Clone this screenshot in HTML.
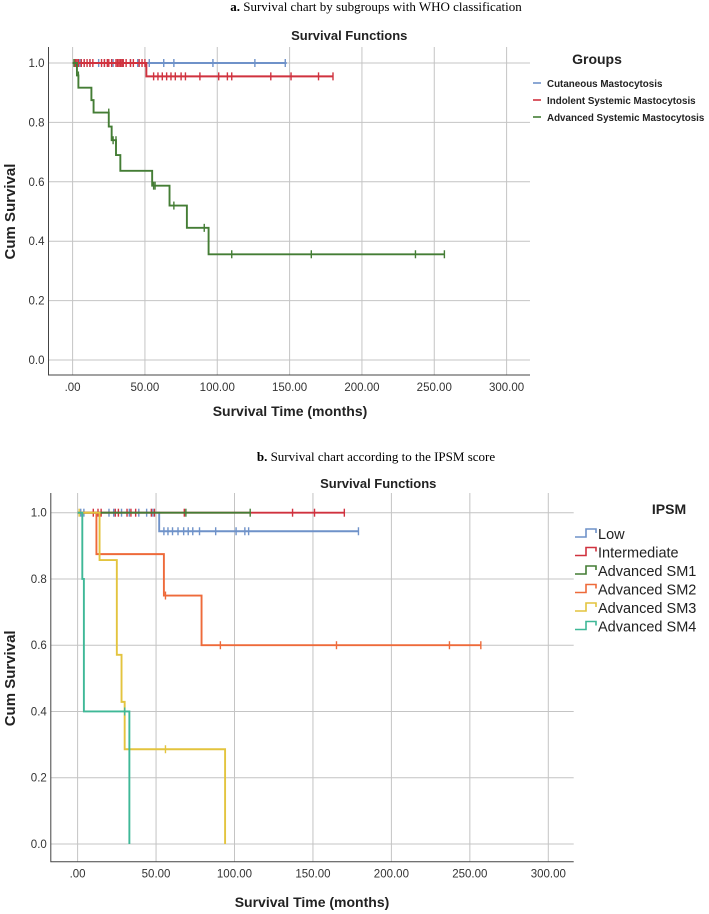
<!DOCTYPE html>
<html><head><meta charset="utf-8"><style>
html,body{margin:0;padding:0;background:#fff;}
svg{display:block;}
text{font-family:"Liberation Sans",sans-serif;}
.serif{font-family:"Liberation Serif",serif;}
</style></head><body>
<svg id="svg" width="709" height="914" viewBox="0 0 709 914" xmlns="http://www.w3.org/2000/svg">
<text class="serif" x="376" y="11" text-anchor="middle" font-size="13"><tspan font-weight="bold">a.</tspan> Survival chart by subgroups with WHO classification</text>
<text class="serif" x="376" y="461" text-anchor="middle" font-size="13"><tspan font-weight="bold">b.</tspan> Survival chart according to the IPSM score</text>
<g id="chartA"></g>
<g id="chartB"></g>
</svg>
<script>
// ---------- Chart A data ----------
const xTicks = [0, 50, 100, 150, 200, 250, 300];
const xTickLabels = [".00", "50.00", "100.00", "150.00", "200.00", "250.00", "300.00"];
const yTicks = [0, 0.2, 0.4, 0.6, 0.8, 1.0];
const yTickLabels = ["0.0", "0.2", "0.4", "0.6", "0.8", "1.0"];

const aNames = ["Cutaneous Mastocytosis", "Indolent Systemic Mastocytosis", "Advanced Systemic Mastocytosis"];
const aCutTimes = [0];
const aCutSurv = [1.0];
const aCutEnd = 148;
const aCutCens = [2, 5, 8, 12, 18, 22, 28, 35, 40, 45, 53, 63, 70, 97, 126, 147];
const aIndTimes = [0, 51];
const aIndSurv = [1.0, 0.955];
const aIndEnd = 180;
const aIndCens = [1, 2, 3, 4, 6, 8, 10, 12, 14, 20, 22, 24, 25, 27, 30, 31, 32, 33, 34, 35, 37, 40, 42, 46, 48, 50, 56, 59, 62, 65, 68, 71, 75, 78, 88, 101, 107, 110, 137, 151, 170, 180];
const aAdvTimes = [0, 3, 4, 13, 14.5, 25, 27, 30, 33, 55, 67, 79, 94];
const aAdvSurv = [1.0, 0.958, 0.917, 0.875, 0.833, 0.786, 0.74, 0.69, 0.637, 0.587, 0.52, 0.445, 0.356];
const aAdvEnd = 257;
const aAdvCens = [1, 4, 25, 28, 30, 56, 57, 70, 91, 110, 165, 237, 257];

// ---------- Chart B data ----------
const bNames = ["Low", "Intermediate", "Advanced SM1", "Advanced SM2", "Advanced SM3", "Advanced SM4"];
const bLowTimes = [0, 52];
const bLowSurv = [1.0, 0.944];
const bLowEnd = 179;
const bLowCens = [2, 4, 20, 23, 28, 33, 39, 44, 48, 55, 57.6, 60.5, 64, 67.6, 70.5, 73.4, 77.7, 88, 101, 106.6, 109, 179];
const bIntTimes = [0];
const bIntSurv = [1.0];
const bIntEnd = 170;
const bIntCens = [10, 13, 15, 24, 26, 31.5, 34, 37, 47, 49, 68, 137, 151, 170];
const bSM1Times = [0];
const bSM1Surv = [1.0];
const bSM1End = 110;
const bSM1Cens = [69, 110];
const bSM2Times = [0, 12, 55, 79];
const bSM2Surv = [1.0, 0.875, 0.75, 0.6];
const bSM2End = 257;
const bSM2Cens = [56, 91, 165, 237, 257];
const bSM3Times = [0, 14, 25, 28, 30, 94];
const bSM3Surv = [1.0, 0.857, 0.571, 0.429, 0.286, 0];
const bSM3End = 94;
const bSM3Cens = [1, 56];
const bSM4Times = [0, 3, 4, 33];
const bSM4Surv = [1.0, 0.8, 0.4, 0];
const bSM4End = 33;
const bSM4Cens = [30];

const NS = "http://www.w3.org/2000/svg";
function mk(parent, tag, attrs, txt) {
  const e = document.createElementNS(NS, tag);
  for (const k in attrs) e.setAttribute(k, attrs[k]);
  if (txt !== undefined) e.textContent = txt;
  parent.appendChild(e);
  return e;
}

function drawChart(g, cfg) {
  const xS = v => cfg.x0 + (v / 300) * (cfg.x300 - cfg.x0);
  const yS = v => cfg.y0 + v * (cfg.y1 - cfg.y0);
  xTicks.forEach((t, i) => {
    const l = mk(g, "line", {x1: xS(t), x2: xS(t), y1: cfg.top, y2: cfg.bottom, stroke: "#c4c4c4", "stroke-width": 1});
    
    
    const tx = mk(g, "text", {x: xS(t), y: cfg.bottom + 16, "text-anchor": "middle", "font-size": 11.5, fill: "#333"}, xTickLabels[i]);
    
    
  });
  yTicks.forEach((t, i) => {
    const l = mk(g, "line", {x1: cfg.left, x2: cfg.right, y1: yS(t), y2: yS(t), stroke: "#c4c4c4", "stroke-width": 1});
    
    
    const tx = mk(g, "text", {x: cfg.left - 4, y: yS(t) + 4, "text-anchor": "end", "font-size": 11.5, fill: "#333"}, yTickLabels[i]);
    
    
  });
  const ax = mk(g, "path", {d: `M${cfg.left},${cfg.top} V${cfg.bottom} H${cfg.right}`, fill: "none", stroke: "#444", "stroke-width": 1});
  
  
  const t1 = mk(g, "text", {x: (cfg.left + cfg.right) / 2 + cfg.titleDx, y: cfg.titleY, "text-anchor": "middle", "font-size": 13, "font-weight": "bold", fill: "#222"}, "Survival Functions");
  
  
  const xt = mk(g, "text", {x: cfg.xTitleX, y: cfg.xTitleY, "text-anchor": "middle", "font-size": 14, "font-weight": "bold", fill: "#222"}, "Survival Time (months)");
  
  
  const yc = (yS(0) + yS(1)) / 2;
  const yt = mk(g, "text", {x: 15, y: yc, "text-anchor": "middle", "font-size": 15, "font-weight": "bold", fill: "#222", transform: `rotate(-90 15 ${yc})`}, "Cum Survival");
  
  

  cfg.series.forEach(s => {
    let d = `M${xS(s.times[0])},${yS(s.surv[0])}`;
    for (let i = 1; i < s.times.length; i++) {
      d += ` H${xS(s.times[i])} V${yS(s.surv[i])}`;
    }
    d += ` H${xS(s.end)}`;
    const p = mk(g, "path", {d: d, fill: "none", stroke: s.color, "stroke-width": 1.9});
    
    
    s.cens.forEach(c => {
      let v = s.surv[0];
      for (let i = 0; i < s.times.length; i++) if (s.times[i] < c) v = s.surv[i];
      const m = mk(g, "line", {x1: xS(c), x2: xS(c), y1: yS(v) - 4, y2: yS(v) + 4, stroke: s.color, "stroke-width": 1.4});
      
      
    });
  });
}

const gA = document.getElementById("chartA");
drawChart(gA, {x0: 72.6, x300: 506.6, y0: 360, y1: 63, left: 48.5, right: 530, top: 47, bottom: 375,
  titleY: 40, titleDx: 60, xTitleX: 290, xTitleY: 416,
  series: [
    {key: "cutaneous", color: "#6f92c9", times: aCutTimes, surv: aCutSurv, end: aCutEnd, cens: aCutCens},
    {key: "indolent", color: "#d0323f", times: aIndTimes, surv: aIndSurv, end: aIndEnd, cens: aIndCens},
    {key: "advanced", color: "#447d35", times: aAdvTimes, surv: aAdvSurv, end: aAdvEnd, cens: aAdvCens}
  ]});
const aColors = ["#6f92c9", "#d0323f", "#447d35"];
const lgA = mk(gA, "text", {x: 597, y: 64, "text-anchor": "middle", "font-size": 14, "font-weight": "bold", fill: "#222"}, "Groups");


aNames.forEach((n, i) => {
  const y = 83 + i * 17;
  const l = mk(gA, "line", {x1: 533, x2: 541, y1: y, y2: y, stroke: aColors[i], "stroke-width": 1.6});
  
  
  const t = mk(gA, "text", {x: 547, y: y + 4, "font-size": 9.8, fill: "#222", "font-weight": "bold"}, n);
  
  
});

const gB = document.getElementById("chartB");
const bColors = ["#6f92c9", "#d0323f", "#447d35", "#ee6a3a", "#e3c43e", "#3fb897"];
drawChart(gB, {x0: 77.6, x300: 548.3, y0: 844, y1: 512.7, left: 50.8, right: 573.7, top: 493, bottom: 861.7,
  titleY: 488, titleDx: 66, xTitleX: 312, xTitleY: 907,
  series: [
    {key: "low", color: bColors[0], times: bLowTimes, surv: bLowSurv, end: bLowEnd, cens: bLowCens},
    {key: "intermediate", color: bColors[1], times: bIntTimes, surv: bIntSurv, end: bIntEnd, cens: bIntCens},
    {key: "sm1", color: bColors[2], times: bSM1Times, surv: bSM1Surv, end: bSM1End, cens: bSM1Cens},
    {key: "sm2", color: bColors[3], times: bSM2Times, surv: bSM2Surv, end: bSM2End, cens: bSM2Cens},
    {key: "sm3", color: bColors[4], times: bSM3Times, surv: bSM3Surv, end: bSM3End, cens: bSM3Cens},
    {key: "sm4", color: bColors[5], times: bSM4Times, surv: bSM4Surv, end: bSM4End, cens: bSM4Cens}
  ]});
const lgB = mk(gB, "text", {x: 669, y: 514, "text-anchor": "middle", "font-size": 14, "font-weight": "bold", fill: "#222"}, "IPSM");


bNames.forEach((n, i) => {
  const y = 533 + i * 18.5;
  const p = mk(gB, "path", {d: `M575,${y + 4} H586 V${y - 4} H596 V${y}`, fill: "none", stroke: bColors[i], "stroke-width": 1.6});
  
  
  const t = mk(gB, "text", {x: 598, y: y + 6, "font-size": 14.5, fill: "#222"}, n);
  
  
});
</script>
</body></html>
